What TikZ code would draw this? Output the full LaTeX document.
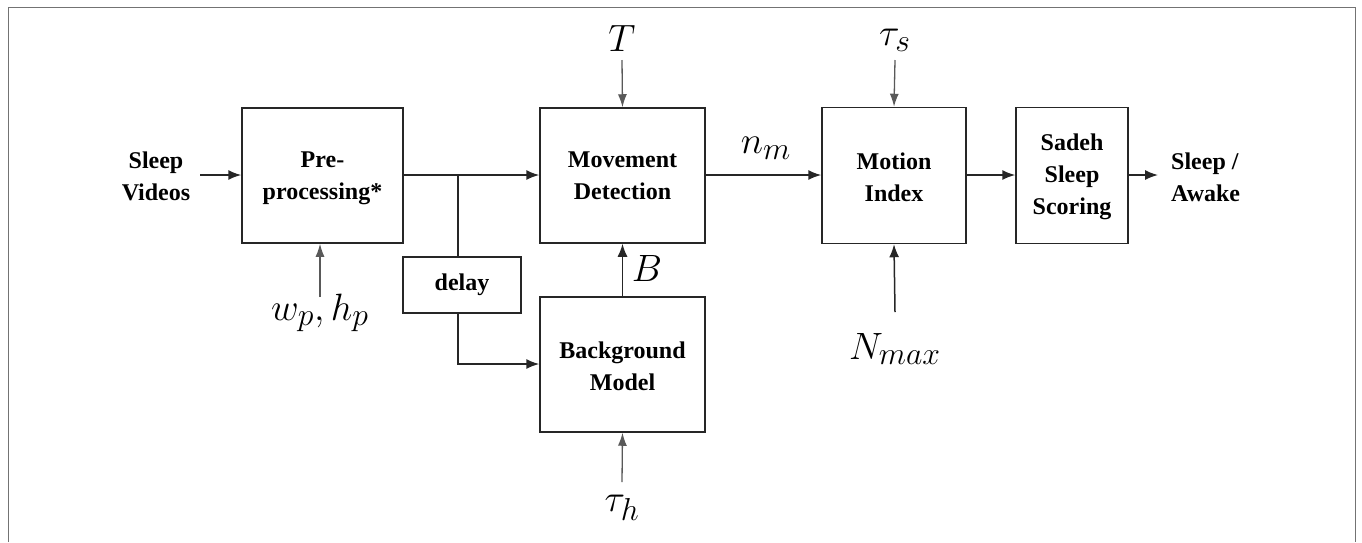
\documentclass[tikz,border=0pt]{standalone}
\usepackage{fontspec}
\newfontfamily\tf{Liberation Serif}
\usetikzlibrary{arrows.meta}
\begin{document}
\begin{tikzpicture}[x=1pt,y=-1pt,
  blk/.style={draw=black!85, line width=1.5pt, inner sep=0pt, align=center,
    font=\tf\bfseries\fontsize{24}{32}\selectfont},
  txt/.style={inner sep=0pt, align=center, font=\tf\bfseries\fontsize{24}{32}\selectfont},
  mth/.style={inner sep=0pt, font=\Huge, scale=1.53},
  flow/.style={draw=black!85, line width=1.5pt, -{Latex[length=13pt,width=10pt]}},
  wire/.style={draw=black!85, line width=1.5pt},
  par/.style={draw=black!65, line width=1.3pt, -{Latex[length=13pt,width=9pt]}}]
\useasboundingbox (0,0) rectangle (1362,542);
\draw[black!55, line width=1pt] (8,542) -- (8,7) -- (1355,7) -- (1355,542);

% blocks
\node[blk, minimum width=161pt, minimum height=135pt] (pre) at (322.5,175.5) {};
\node[txt] (pret) at (322.5,178) {Pre-\\processing*};
\node[blk, minimum width=165pt, minimum height=135pt] (md) at (622.5,175.5) {};
\node[txt] (mdt) at (622.5,176) {Movement\\Detection};
\node[blk, minimum width=165pt, minimum height=135pt] (bg) at (622.5,364.5) {};
\node[txt] (bgt) at (622.5,366) {Background\\Model};
\node[blk, minimum width=118pt, minimum height=56pt] (dl) at (462,285) {delay};
\node[blk, minimum width=144pt, minimum height=136pt] (mi) at (894,175.5) {};
\node[txt] (mit) at (894,177) {Motion\\Index};
\node[blk, minimum width=112pt, minimum height=136pt] (sd) at (1072,175.5) {};
\node[txt] (sdt) at (1072,177) {Sadeh\\Sleep\\Scoring};

% in/out labels
\node[txt] (in) at (156,176) {Sleep\\Videos};
\node[txt, align=left, anchor=west] (out) at (1171,177) {Sleep /\\Awake};

% math labels
\node[mth] (T) at (622,38) {$T$};
\node[mth] (ts) at (895,40) {$\tau_s$};
\node[mth] (nm) at (766,148) {$n_m$};
\node[mth] (B) at (647,268) {$B$};
\node[mth] (wh) at (320,313) {$w_p, h_p$};
\node[mth] (nx) at (895,349) {$N_{max}$};
\node[mth] (th) at (622,508) {$\tau_h$};

% coordinates
\coordinate (inS) at (200,175);
\coordinate (br) at (458,175);
\coordinate (dlb) at (458,364);
\coordinate (outE) at (1158,175);
\coordinate (Tp) at (622,60);
\coordinate (tsp) at (895,60);
\coordinate (whp) at (320,297);
\coordinate (nxp) at (895,312);
\coordinate (thp) at (622,482);

% flow
\draw[flow] (inS) -- (pre.west |- inS);
\draw[flow] (pre.east |- inS) -- (md.west |- inS);
\draw[wire] (br) -- (br |- dl.north);
\draw[flow] (br |- dl.south) -- (dlb) -- (bg.west |- dlb);
\draw[flow] (bg.north) -- (md.south);
\draw[flow] (md.east |- inS) -- (mi.west |- inS);
\draw[flow] (mi.east |- inS) -- (sd.west |- inS);
\draw[flow] (sd.east |- inS) -- (outE);

% parameters
\draw[par] (Tp) -- (md.north);
\draw[par] (tsp) -- (mi.north);
\draw[par] (whp) -- (whp |- pre.south);
\draw[flow] (nxp) -- (mi.south);
\draw[par] (thp) -- (bg.south);
\end{tikzpicture}
\end{document}
